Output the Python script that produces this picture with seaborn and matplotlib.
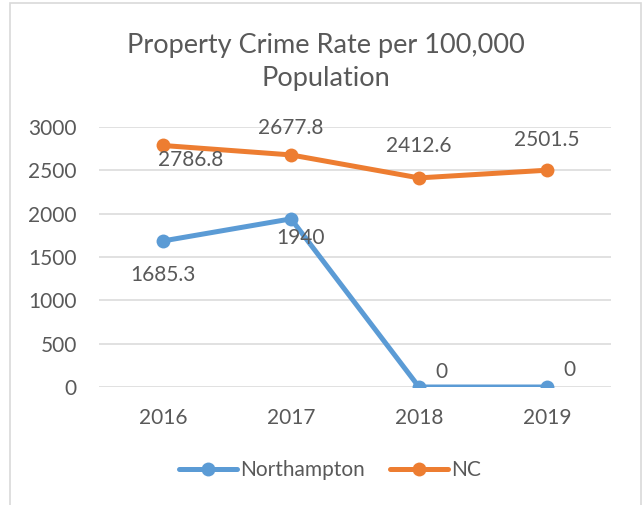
import matplotlib
matplotlib.use("Agg")
import matplotlib.pyplot as plt
import seaborn as sns
import pandas as pd
from matplotlib.patches import Rectangle

years = ["2016", "2017", "2018", "2019"]
northampton = [1685.3, 1940, 0, 0]
nc = [2786.8, 2677.8, 2412.6, 2501.5]
series_names = ["Northampton", "NC"]
title = "Property Crime Rate per 100,000\nPopulation"

sns.set_theme(style="white")
plt.rcParams["font.family"] = ["Lato", "DejaVu Sans"]

TXT = "#595959"
BLUE = "#5B9BD5"
ORANGE = "#ED7D31"
GRID = "#D9D9D9"

W, H = 642, 505
fig = plt.figure(figsize=(W / 100, H / 100), dpi=100)
fig.patch.set_facecolor("white")

ax = fig.add_axes([99 / W, (H - 387) / H, (611 - 99) / W, 260 / H])

rows = []
for name, vals in zip(series_names, [northampton, nc]):
    for i, (yr, v) in enumerate(zip(years, vals)):
        rows.append({"pos": i, "year": yr, "value": v, "series": name})
df = pd.DataFrame(rows)

sns.lineplot(data=df, x="pos", y="value", hue="series", hue_order=series_names,
             palette=[BLUE, ORANGE], marker="o", markersize=10, markeredgewidth=0,
             linewidth=3.6, ax=ax, legend=True, zorder=3)

ax.set_xlim(-0.5, 3.5)
ax.set_ylim(0, 3000)
ax.set_yticks(range(0, 3001, 500))
ax.set_xticks(range(len(years)))
ax.set_xticklabels(years)
ax.set_xlabel("")
ax.set_ylabel("")
for s in ax.spines.values():
    s.set_visible(False)
ax.grid(axis="y", color=GRID, linewidth=1.1, zorder=0)
ax.grid(axis="x", visible=False)
ax.tick_params(axis="both", length=0, labelsize=15, labelcolor=TXT)
ax.tick_params(axis="y", pad=16)
ax.tick_params(axis="x", pad=15)

def fmt(v):
    return f"{v:g}"

# label offsets in pixels (dx, dy) for each point
nh_off = [(0, -34), (10, -19), (22, 15), (22, 17)]
nc_off = [(28, -15), (0, 27), (0, 32), (0, 30)]
for vals, offs in [(northampton, nh_off), (nc, nc_off)]:
    for i, (v, (dx, dy)) in enumerate(zip(vals, offs)):
        ax.annotate(fmt(v), (i, v), xytext=(dx, dy), textcoords="offset pixels",
                    ha="center", va="center", fontsize=15, color=TXT, zorder=5)

fig.text(326 / W, 1 - 62 / H, title, ha="center", va="center", fontsize=19.5,
         color=TXT, linespacing=1.4)

handles, labels = ax.get_legend_handles_labels()
ax.legend(handles, labels, loc="center", bbox_to_anchor=(330 / W, 1 - 470 / H),
          bbox_transform=fig.transFigure, ncol=2, frameon=False, fontsize=15,
          handlelength=2.8, handletextpad=0.15, columnspacing=1.2,
          labelcolor=TXT)

fig.patches.append(Rectangle((10 / W, -0.05), (641 - 10) / W, 1.05 - 3 / H,
                             transform=fig.transFigure, fill=False,
                             edgecolor=GRID, linewidth=1.2, zorder=0))

fig.savefig("out.png", dpi=100)
